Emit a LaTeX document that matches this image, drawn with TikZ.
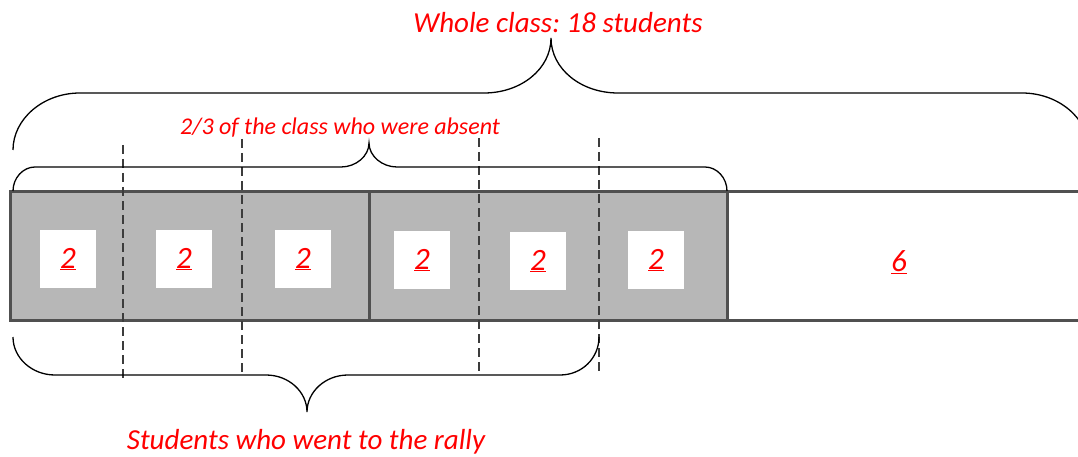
\documentclass[tikz,border=0pt]{standalone}
\usepackage{fontspec}
\setmainfont{Carlito}
\frenchspacing
\definecolor{barfill}{HTML}{B7B7B7}
\definecolor{barline}{HTML}{505050}
\definecolor{dashcol}{HTML}{3C3C3C}
\definecolor{txtred}{HTML}{FF0000}
\begin{document}
\begin{tikzpicture}[x=1pt,y=-1pt,
  lbl/.style={font=\itshape\fontsize{31}{33}\selectfont, text=txtred},
  bigcaption/.style={font=\itshape\fontsize{29}{31}\selectfont, text=txtred, anchor=base, inner sep=0pt},
  smallcaption/.style={font=\itshape\fontsize{24}{26}\selectfont, text=txtred, anchor=base, inner sep=0pt},
  sq/.style={fill=white, minimum width=56pt, minimum height=58pt, inner sep=0pt, lbl},
  bracepath/.style={draw=black, line width=1.3pt},
  divider/.style={draw=dashcol, dash pattern=on 9pt off 5pt, line width=2.4pt},
  barstroke/.style={draw=barline, line width=3pt},
  ]
\useasboundingbox (0,0) rectangle (1078,457);
% bar
\fill[barfill] (10,192) rectangle (727,320);
\draw[barstroke] (1078,192) -- (10,192) -- (10,320) -- (1078,320);
\draw[barstroke] (369,192) -- (369,320);
\draw[barstroke] (727,192) -- (727,320);
% dashed dividers
\draw[divider] (123,145) -- (123,378);
\draw[divider] (242,139) -- (242,372);
\draw[divider] (479,138) -- (479,372);
\draw[divider] (599,138) -- (599,372);
% squares
\node[sq] (s1) at (68,259) {\underline{2}};
\node[sq] (s2) at (184,259) {\underline{2}};
\node[sq] (s3) at (303,259) {\underline{2}};
\node[sq] (s4) at (422,260) {\underline{2}};
\node[sq] (s5) at (538,261) {\underline{2}};
\node[sq] (s6) at (656,260) {\underline{2}};
\node[lbl, inner sep=0pt] (six) at (899,262) {\underline{6}};
% top brace (whole class)
\begin{scope}
\clip (0,0) rectangle (1078,457);
\draw[bracepath] (13,150) .. controls (13,119) and (43,93) .. (80,93)
  -- (484,93) .. controls (521,93) and (551,69) .. (551,38)
  .. controls (551,69) and (581,93) .. (618,93)
  -- (1022,93) .. controls (1059,93) and (1089,119) .. (1089,150);
\end{scope}
% middle brace (2/3)
\draw[bracepath] (13,191) .. controls (13,178) and (23,167) .. (35,167)
  -- (341,167) .. controls (356,167) and (369,156) .. (369,143)
  .. controls (369,156) and (382,167) .. (397,167)
  -- (705,167) .. controls (717,167) and (727,178) .. (727,191);
% bottom brace
\draw[bracepath] (13,337) .. controls (13,358) and (32,375) .. (55,375)
  -- (266,375) .. controls (289,375) and (307,392) .. (307,412)
  .. controls (307,392) and (325,375) .. (348,375)
  -- (560,375) .. controls (582,375) and (599,358) .. (599,337);
% captions
\node[bigcaption] (whole) at (558,33) {Whole class: 18 students};
\node[smallcaption] (absent) at (340,135) {2/3 of the class who were absent};
\node[bigcaption] (rally) at (306,449) {Students who went to the rally};
\end{tikzpicture}
\end{document}
